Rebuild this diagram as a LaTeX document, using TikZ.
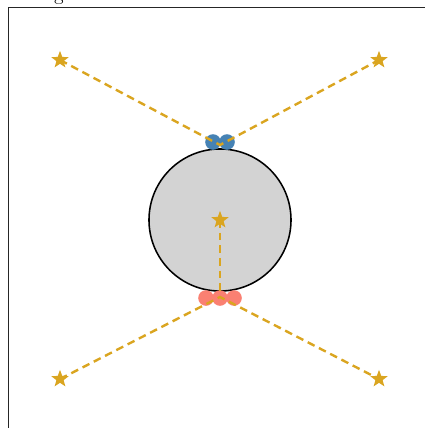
\documentclass[tikz,border=0pt]{standalone}
\usetikzlibrary{shapes.geometric}
\definecolor{goldray}{RGB}{218,165,32}
\definecolor{steeldot}{RGB}{70,130,180}
\definecolor{salmondot}{RGB}{250,128,114}
\definecolor{ballgray}{RGB}{211,211,211}
\begin{document}
\begin{tikzpicture}[x=0.025cm, y=-0.025cm,
  starmark/.style={star, star points=5, star point ratio=2.4, fill=goldray,
    inner sep=0pt, minimum size=13pt},
  ray/.style={goldray, line width=1.7pt, dash pattern=on 5.5pt off 3.5pt},
  dot/.style={circle, inner sep=0pt, minimum size=0.39cm}]
  \useasboundingbox (0,0) rectangle (424,428);
  % title remnant and axes frame
  \node[anchor=base, inner sep=0pt, font=\fontsize{14}{14}\selectfont] (ttl) at (59,0) {g};
  \draw[line width=0.7pt, black!85] (8,440) -- (8,7) -- (440,7);
  % ball
  \node[circle, draw, fill=ballgray, line width=1.1pt, inner sep=0pt,
    minimum size=3.55cm] (ball) at (220,220) {};
  % star positions and meeting points
  \coordinate (tl) at (60,60);
  \coordinate (tr) at (379,60);
  \coordinate (bl) at (60,379);
  \coordinate (br) at (379,379);
  \coordinate (mid) at (220,220);
  \coordinate (top) at (220,145);
  \coordinate (bot) at (220,297);
  % images
  \foreach \x/\n in {213/b1, 227/b2}
    \node[dot, fill=steeldot] (\n) at (\x,142) {};
  \foreach \x/\n in {206/r1, 220/r2, 234/r3}
    \node[dot, fill=salmondot] (\n) at (\x,298) {};
  % rays
  \draw[ray] (tl) -- (top) -- (tr);
  \draw[ray] (bl) -- (bot) -- (br);
  \draw[ray] (mid) -- (bot);
  % sources
  \foreach \p in {tl, tr, bl, br, mid}
    \node[starmark] (s-\p) at (\p) {};
\end{tikzpicture}
\end{document}
